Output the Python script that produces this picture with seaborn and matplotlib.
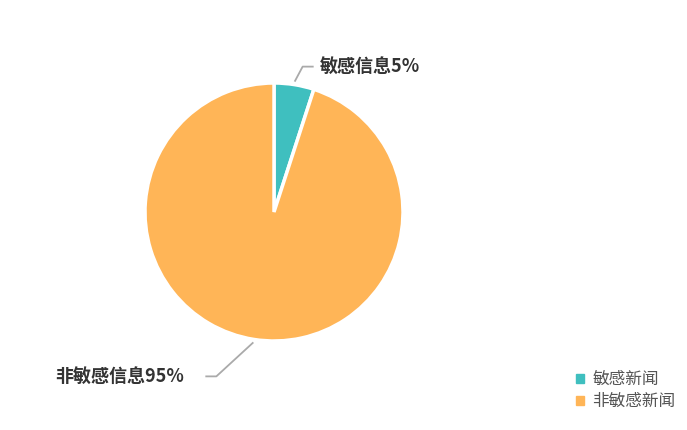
import numpy as np
import matplotlib
matplotlib.use("Agg")
import matplotlib.pyplot as plt
import matplotlib.patches as mpatches
import seaborn as sns

# data
categories = ["敏感信息", "非敏感信息"]
legend_names = ["敏感新闻", "非敏感新闻"]
shares = [5, 95]
colors = ["#3fbfbf", "#ffb557"]

sns.set_theme(style="white")
plt.rcParams["font.family"] = ["Noto Sans CJK SC", "DejaVu Sans"]

W, H = 687, 430
fig = plt.figure(figsize=(W / 100, H / 100), dpi=100)
ax = fig.add_axes([0, 0, 1, 1])

cx, cy, r = 274, H - 212, 129
wedges, _ = ax.pie(shares, colors=colors, startangle=90, counterclock=False,
                   center=(cx, cy), radius=r, frame=True,
                   wedgeprops=dict(edgecolor="white", linewidth=2.5))
ax.set_xlim(0, W)
ax.set_ylim(0, H)
ax.set_aspect("equal")
ax.axis("off")

# leader lines + labels: elbow dx, dy, horizontal run, text gap (px)
offsets = [(8, 15, 11, 6), (-37, -34, -11, 21)]
for w, cat, val, (dx, dy, hx, gap) in zip(wedges, categories, shares, offsets):
    ang = np.deg2rad((w.theta1 + w.theta2) / 2)
    x0 = cx + (r + 3) * np.cos(ang)
    y0 = cy + (r + 3) * np.sin(ang)
    x1, y1 = x0 + dx, y0 + dy
    x2 = x1 + hx
    ax.plot([x0, x1, x2], [y0, y1, y1], color="#aaaaaa", lw=1.3,
            solid_capstyle="butt")
    ha = "left" if hx > 0 else "right"
    ax.text(x2 + (gap if hx > 0 else -gap), y1, f"{cat}{val}%", ha=ha, va="center",
            fontsize=13, fontweight="bold", color="#333333")

handles = [mpatches.Patch(color=c, label=n) for c, n in zip(colors, legend_names)]
leg = ax.legend(handles=handles, loc="upper left", bbox_to_anchor=(568 / W, 1 - 363 / H),
                bbox_transform=fig.transFigure, frameon=False, fontsize=12,
                handlelength=0.45, handleheight=0.45, handletextpad=0.5,
                labelspacing=0.3, borderpad=0)
for t in leg.get_texts():
    t.set_color("#555555")

fig.savefig("out.png", dpi=100)
